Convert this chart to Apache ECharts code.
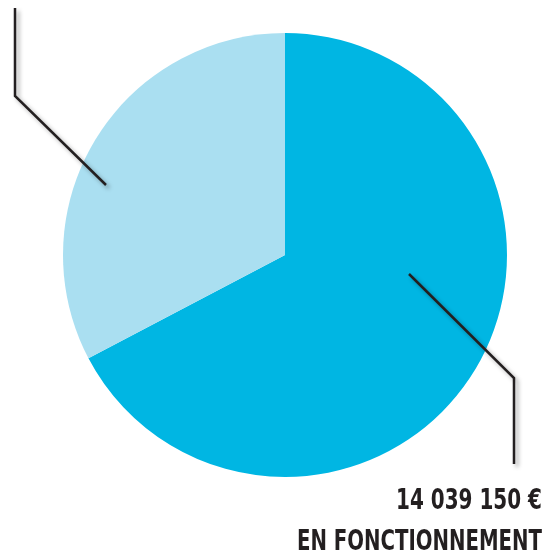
<!DOCTYPE html>
<html><head><meta charset="utf-8">
<script src="https://cdn.jsdelivr.net/npm/echarts@6/dist/echarts.min.js"></script>
<style>html,body{margin:0;padding:0;background:#fff}#c{width:548px;height:550px}</style>
</head><body><div id="c"></div>
<script>
const categories = ['EN FONCTIONNEMENT', 'EN INVESTISSEMENT'];
const values = [14039150, 6820000];
const colors = ['#00b6e3', '#aadff1'];

function fmt(v){ return String(v).replace(/\B(?=(\d{3})+(?!\d))/g, ' ') + ' €'; }

const chart = echarts.init(document.getElementById('c'));
const lineStyle = {stroke:'#231f20', lineWidth:2.5, fill:null, shadowBlur:4, shadowColor:'rgba(0,0,0,0.35)', shadowOffsetX:3, shadowOffsetY:3};
const fontStr = '600 29px "DejaVu Sans Condensed"';
const ctx = document.createElement('canvas').getContext('2d');
ctx.font = fontStr;
const w1 = ctx.measureText(fmt(values[0])).width;
const w2 = ctx.measureText(categories[0]).width;
const sx1 = 146 / w1, sx2 = 245 / w2;
chart.setOption({
  animation:false,
  series:[{
    type:'pie',
    center:[285,255],
    radius:222,
    startAngle:90,
    clockwise:true,
    silent:true,
    label:{show:false},
    labelLine:{show:false},
    data: categories.map((c,i)=>({name:c, value:values[i], itemStyle:{color:colors[i]}}))
  }],
  graphic:[
    {type:'polyline', z:100, shape:{points:[[409,274],[514,378],[514,464]]}, style:lineStyle},
    {type:'polyline', z:100, shape:{points:[[106,185],[15,96],[15,8]]}, style:lineStyle},
    {type:'text', z:100, x:542, y:487, scaleX:sx1, style:{text:fmt(values[0]), font:fontStr, fill:'#231f20', textAlign:'right', textVerticalAlign:'top'}},
    {type:'text', z:100, x:542, y:528, scaleX:sx2, style:{text:categories[0], font:fontStr, fill:'#231f20', textAlign:'right', textVerticalAlign:'top'}}
  ]
});
</script></body></html>
